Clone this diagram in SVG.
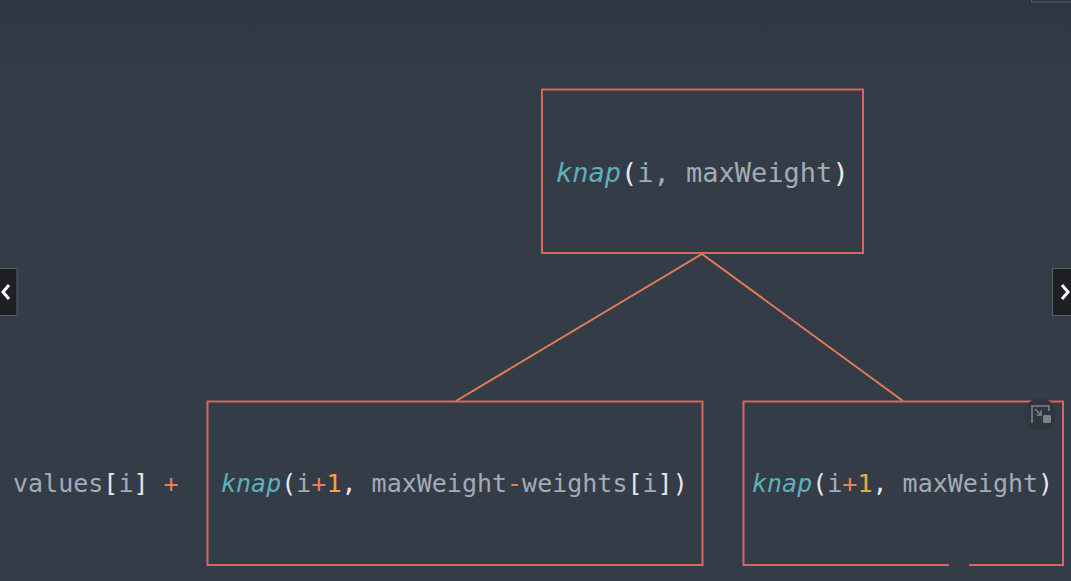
<svg xmlns="http://www.w3.org/2000/svg" width="1071" height="581" viewBox="0 0 1071 581">
<style>
.box{fill:none;stroke:#d9665f;stroke-width:2}
.edge{stroke:#e47a56;stroke-width:2;fill:none}
.code{font-family:"DejaVu Sans Mono","Liberation Mono",monospace;fill:#a3abb6}
.fn{fill:#5bb0ba;font-style:italic}
.p{fill:#e6e8ea}
.op{fill:#f07f4f}
.num{fill:#f0a840}
.nav{fill:#1f2023;stroke:#5a5d62;stroke-width:1}
.chev{fill:none;stroke:#ffffff;stroke-width:3}
</style>
<defs>
<linearGradient id="bg" x1="0" y1="0" x2="0" y2="1">
<stop offset="0" stop-color="#2f3641"/>
<stop offset="0.12" stop-color="#343c47"/>
<stop offset="1" stop-color="#343c47"/>
</linearGradient>
</defs>
<rect x="0" y="0" width="1071" height="581" fill="url(#bg)"/>

<g id="connectors">
<line class="edge" x1="702" y1="254" x2="456" y2="401"/>
<line class="edge" x1="702" y1="254" x2="903" y2="401"/>
</g>

<g id="node-root">
<rect class="box" x="542" y="89.5" width="321" height="163.5"/>
<text class="code" x="556" y="182" font-size="27" xml:space="preserve"><tspan class="fn">knap</tspan><tspan class="p">(</tspan>i, maxWeight<tspan class="p">)</tspan></text>
</g>

<g id="node-left">
<rect class="box" x="207.5" y="401.5" width="495" height="163.5"/>
<text class="code" x="221" y="492" font-size="25" xml:space="preserve"><tspan class="fn">knap</tspan><tspan class="p">(</tspan>i<tspan class="op">+</tspan><tspan class="num">1</tspan><tspan class="p">,</tspan> maxWeight<tspan class="op">-</tspan>weights<tspan class="p">[</tspan>i<tspan class="p">])</tspan></text>
</g>

<g id="label-values">
<text class="code" x="13" y="492" font-size="25" xml:space="preserve">values<tspan class="p">[</tspan>i<tspan class="p">]</tspan> <tspan class="op">+</tspan></text>
</g>

<g id="node-right">
<path class="box" d="M949,565 H743.5 V401.5 H1063 V565 H969"/>
<text class="code" x="752" y="492" font-size="25" xml:space="preserve"><tspan class="fn">knap</tspan><tspan class="p">(</tspan>i<tspan class="op">+</tspan><tspan class="num">1</tspan><tspan class="p">,</tspan> maxWeight<tspan class="p">)</tspan></text>
</g>

<g id="ui">
<rect class="nav" x="-1" y="268.5" width="18" height="47"/>
<path class="chev" d="M9,285 L3,292 L9,299"/>
<rect class="nav" x="1052.5" y="268.5" width="20" height="47"/>
<path class="chev" d="M1062,285 L1068,292 L1062,299"/>
<rect x="1031.5" y="-2" width="40" height="4" fill="none" stroke="#5a5d62" stroke-width="1"/>
<circle cx="1040" cy="414" r="16" fill="#30363f"/>
<path d="M1032,423 V406 H1049 V411" fill="none" stroke="#7b8089" stroke-width="1.6"/>
<path d="M1035,409 L1041,415 M1041,410.5 V415 H1036.5" fill="none" stroke="#7b8089" stroke-width="1.6"/>
<rect x="1043" y="415" width="8" height="8" rx="1.5" fill="#7b8089"/>
</g>
</svg>
